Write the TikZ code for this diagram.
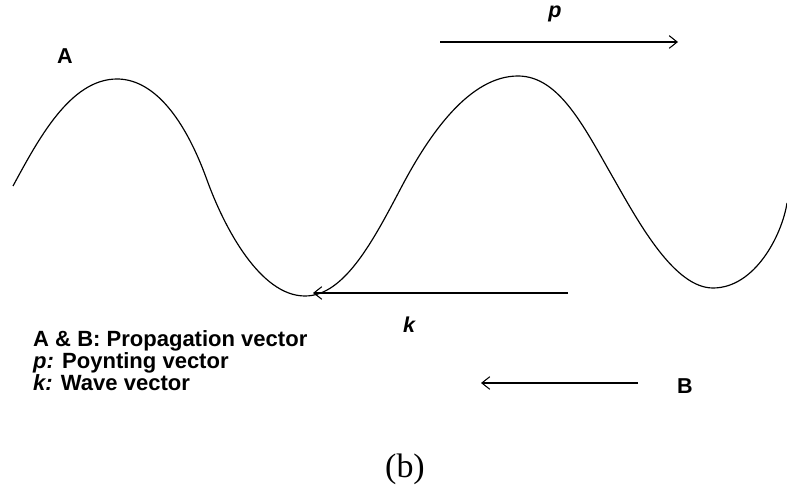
\documentclass[tikz,border=0pt]{standalone}
\usepackage{fontspec}
\setmainfont{Liberation Serif}
\setsansfont{Liberation Sans}
\usetikzlibrary{positioning,arrows.meta}

\tikzset{
  vec/.style={line width=0.9pt, -{Straight Barb[length=2.4mm, width=3.8mm, line width=0.9pt]}},
  lbl/.style={font=\sffamily\bfseries\fontsize{18.4}{18.8}\selectfont, inner sep=0pt},
  wave/.style={line width=1pt}
}

\begin{document}
\begin{tikzpicture}[x=0.03cm, y=-0.03cm]
\useasboundingbox (0,0) rectangle (787,486);
% the wave, crest to trough
\draw[wave] (13,186) .. controls (38,140) and (70,79) .. (117,79)
  .. controls (150,79) and (182,111) .. (207,180)
  .. controls (224,227) and (260,296) .. (305,296)
  .. controls (345,296) and (374,239) .. (402,186)
  .. controls (430,133) and (470,76) .. (518,76)
  .. controls (560,76) and (585,129) .. (615,181)
  .. controls (640,225) and (675,288) .. (713,288)
  .. controls (755,288) and (782,235) .. (787,203);
% arrow ends
\coordinate (p0) at (440,42);  \coordinate (p1) at (678,42);
\coordinate (k0) at (568,293); \coordinate (k1) at (313,293);
\coordinate (b0) at (638,383); \coordinate (b1) at (481,383);
\draw[vec] (p0) -- (p1);
\draw[vec] (k0) -- (k1);
\draw[vec] (b0) -- (b1);
% labels
\node[lbl] (A) at (65,56) {A};
\node[lbl] (B) at (685,386) {B};
\node[lbl] (plab) at (555,14) {\itshape p};
\node[lbl] (klab) at (409,325) {\itshape k};
\node[lbl, font=\sffamily\bfseries\fontsize{18.8}{18.8}\selectfont, anchor=west, align=left] (legend) at (33,361)
  {A \& B: Propagation vector\\{\itshape p:} Poynting vector\\{\itshape k:} Wave vector};
\node[font=\fontsize{29}{30}\selectfont, inner sep=0pt] (cap) at (405,469) {(b)};
\end{tikzpicture}
\end{document}
